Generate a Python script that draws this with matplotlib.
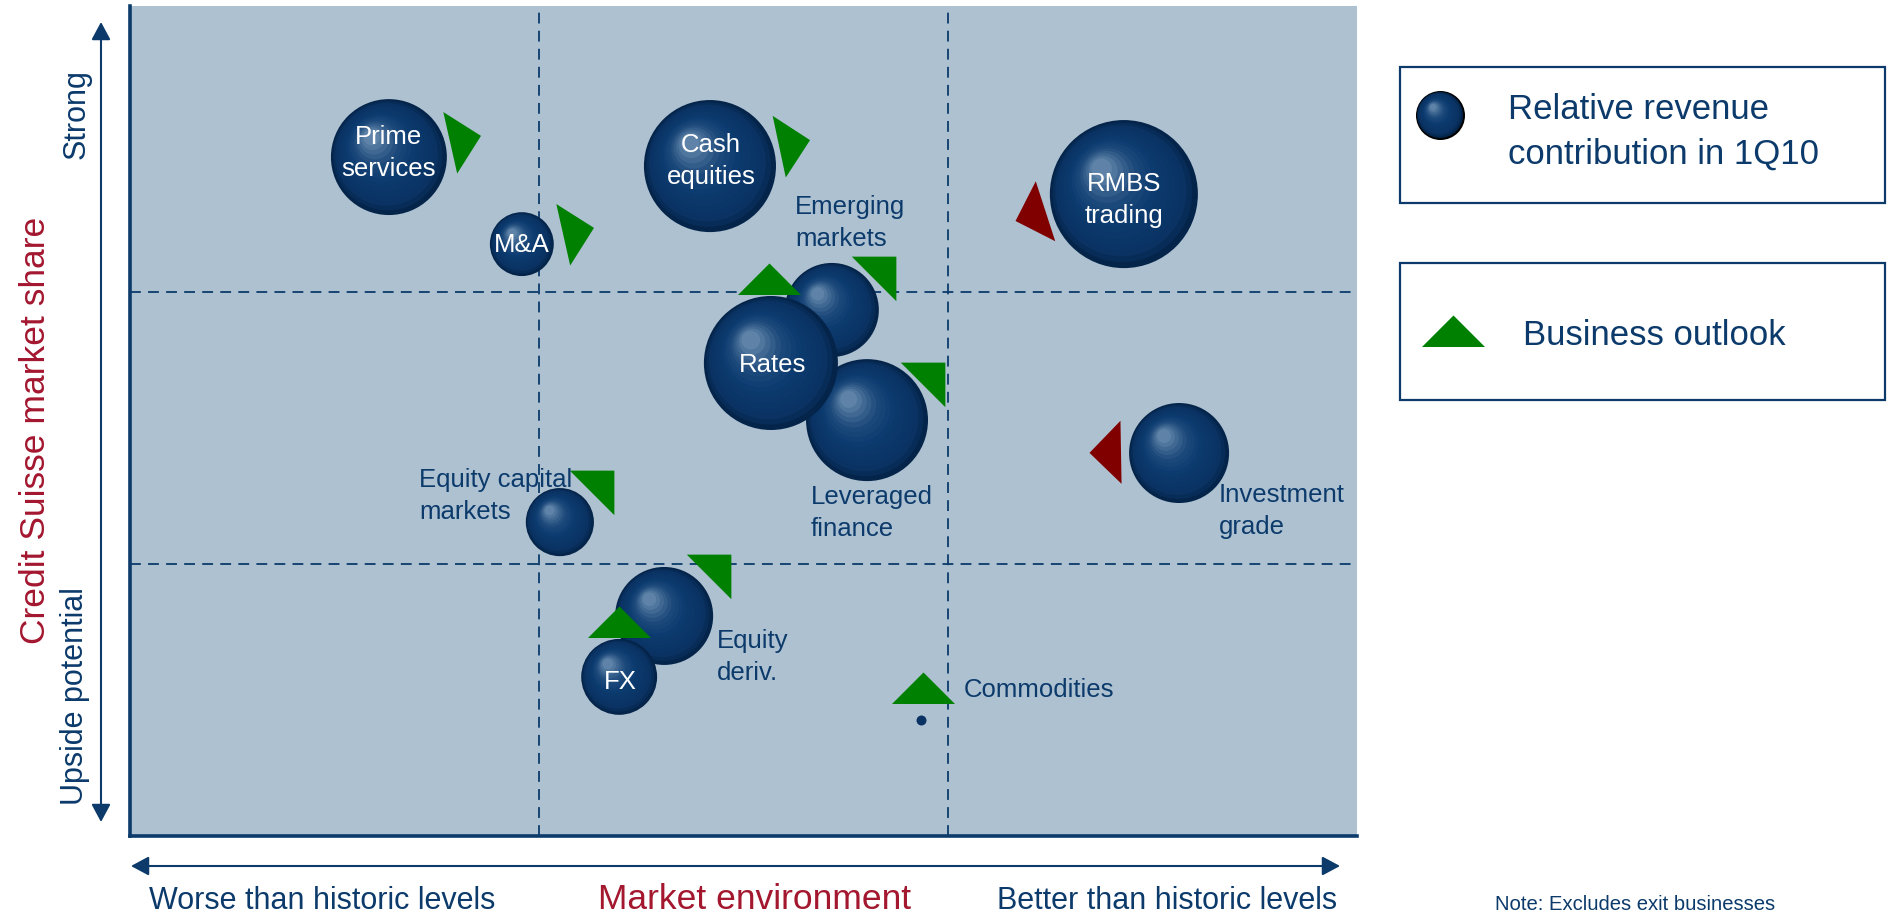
import numpy as np
import matplotlib
matplotlib.use("Agg")
import matplotlib.pyplot as plt
from matplotlib.markers import MarkerStyle
from matplotlib.path import Path
from matplotlib.transforms import Affine2D
from matplotlib.patches import FancyArrowPatch, Rectangle, ArrowStyle

# ---------------- data ----------------
businesses = ["Prime services", "M&A", "Cash equities", "RMBS trading",
              "Emerging markets", "Rates", "Leveraged finance", "Investment grade",
              "Equity capital markets", "Equity deriv.", "FX", "Commodities"]
labels = ["Prime\nservices", "M&A", "Cash\nequities", "RMBS\ntrading",
          "Emerging\nmarkets", "Rates", "Leveraged\nfinance", "Investment\ngrade",
          "Equity capital\nmarkets", "Equity\nderiv.", "FX", "Commodities"]
# x: market environment (0-3), y: Credit Suisse market share (0-3)
market_env = [0.633, 0.958, 1.418, 2.430, 1.716, 1.567, 1.802, 2.565, 1.051, 1.306, 1.196, 1.934]
market_share = [2.496, 2.176, 2.463, 2.360, 1.934, 1.739, 1.529, 1.408, 1.154, 0.809, 0.585, 0.426]
# relative revenue contribution in 1Q10 (bubble area, relative units)
revenue = [33.6, 10.2, 43.6, 54.8, 22.1, 44.9, 37.2, 25.0, 11.6, 24.0, 14.4, 0.25]
# business outlook markers
outlook_x = [0.808, 1.084, 1.611, 2.213, 1.836, 1.562, 1.955, 2.396, 1.147, 1.433, 1.196, 1.938]
outlook_y = [2.560, 2.222, 2.543, 2.286, 2.077, 2.028, 1.688, 1.410, 1.290, 0.982, 0.768, 0.525]
outlook_dir = [12.7, 12.7, 12.0, 198.0, 45.0, 90.0, 45.0, 181.0, 45.0, 45.0, 90.0, 90.0]
outlook_sign = ["+", "+", "+", "-", "+", "+", "+", "-", "+", "+", "+", "+"]

x_labels = ["Worse than historic levels", "Market environment", "Better than historic levels"]
y_labels = ["Upside potential", "Credit Suisse market share", "Strong"]
legend_labels = ["Relative revenue", "contribution in 1Q10", "Business outlook"]
note = "Note: Excludes exit businesses"

# ---------------- style ----------------
W, H, DPI = 1887, 914, 100
NAVY = "#0b3a6b"
RED = "#a3172f"
BG = "#aec1d1"
GREEN = "#008000"
DARKRED = "#800000"
FONT = "Liberation Sans"
plt.rcParams["font.family"] = [FONT, "DejaVu Sans"]

inside = [True, True, True, True, False, True, False, False, False, False, True, False]
label_off = [(0, 32), (0, 11), (1, 33), (0, 22), (-37, 115), (2, 10), (-56, -65),
             (40, -30), (-141, 54), (53, -13), (1, 7), (43, 42)]
draw_order = [0, 1, 2, 3, 4, 6, 5, 7, 8, 9, 10, 11]

fig = plt.figure(figsize=(W / DPI, H / DPI), dpi=DPI)
ax = fig.add_axes([130 / W, (H - 836) / H, 1227 / W, 830 / H])
ax.set_xlim(0, 3)
ax.set_ylim(0, 830 / 272)
ax.set_facecolor(BG)
for s in ["top", "right"]:
    ax.spines[s].set_visible(False)
for s in ["left", "bottom"]:
    ax.spines[s].set_color(NAVY)
    ax.spines[s].set_linewidth(2.6)
ax.set_xticks([])
ax.set_yticks([])
for v in (1, 2):
    ax.axvline(v, color=NAVY, lw=1.3, ls=(0, (6, 4)), zorder=1)
    ax.axhline(v, color=NAVY, lw=1.3, ls=(0, (6, 4)), zorder=1)

# gradient bubble helper
stops_t = [0.0, 0.12, 0.45, 0.70, 0.85, 1.0]
stops_c = np.array([[4, 36, 74], [10, 50, 98], [11, 58, 110], [30, 74, 124],
                    [60, 101, 144], [95, 131, 168]]) / 255.0
NL = 16


def bubble(axis, x, y, r_px, z, edge=False, plain=False):
    ts = np.linspace(0, 1, NL)
    cdisp = axis.transData.transform((x, y))
    if plain:
        axis.scatter([x], [y], s=[(2 * r_px * 72 / DPI) ** 2], color=stops_c[1],
                     linewidths=0, zorder=z)
        return
    pts, sizes, cols = [], [], []
    for t in ts:
        rr = r_px * (1 - 0.86 * t)
        off = np.array([-0.30 * r_px * t, 0.34 * r_px * t])
        pts.append(axis.transData.inverted().transform(cdisp + off))
        sizes.append((2 * rr * 72 / DPI) ** 2)
        cols.append([np.interp(t, stops_t, stops_c[:, k]) for k in range(3)])
    pts = np.array(pts)
    if edge:
        axis.scatter([x], [y], s=[(2 * (r_px + 1.5) * 72 / DPI) ** 2], color="black",
                     linewidths=0, zorder=z)
    axis.scatter(pts[:, 0], pts[:, 1], s=sizes, c=cols, linewidths=0, zorder=z)


fig.canvas.draw()
for k, i in enumerate(draw_order):
    r_px = 10 * np.sqrt(revenue[i])
    bubble(ax, market_env[i], market_share[i], r_px, 2 + k * 0.01, plain=r_px < 8)

# outlook triangles
tri = Path([(-1, -1 / 3), (1, -1 / 3), (0, 2 / 3), (-1, -1 / 3)],
           [Path.MOVETO, Path.LINETO, Path.LINETO, Path.CLOSEPOLY])
TRI_S = 45.4 ** 2
for i in range(len(businesses)):
    m = MarkerStyle(tri, transform=Affine2D().rotate_deg(outlook_dir[i] - 90))
    ax.scatter([outlook_x[i]], [outlook_y[i]], marker=m, s=TRI_S,
               color=GREEN if outlook_sign[i] == "+" else DARKRED,
               linewidths=0, zorder=3)

# labels
for i in range(len(businesses)):
    if inside[i]:
        ax.annotate(labels[i], xy=(market_env[i], market_share[i]), xytext=label_off[i],
                    textcoords="offset pixels", ha="center", va="top", color="white",
                    fontsize=18.5, linespacing=1.42, zorder=4)
    else:
        ax.annotate(labels[i], xy=(market_env[i], market_share[i]), xytext=label_off[i],
                    textcoords="offset pixels", ha="left", va="top", color=NAVY,
                    fontsize=18.5, linespacing=1.42, zorder=4)

# overlay in pixel coordinates
ov = fig.add_axes([0, 0, 1, 1], zorder=5)
ov.set_xlim(0, W)
ov.set_ylim(H, 0)
ov.axis("off")
ov.patch.set_alpha(0)

astyle = ArrowStyle("<|-|>", head_length=0.54, head_width=0.29)
ov.add_patch(FancyArrowPatch((101, 22), (101, 822), arrowstyle=astyle, mutation_scale=20,
                             color=NAVY, lw=1.5, shrinkA=0, shrinkB=0))
ov.add_patch(FancyArrowPatch((131, 866), (1340, 866), arrowstyle=astyle, mutation_scale=20,
                             color=NAVY, lw=1.5, shrinkA=0, shrinkB=0))

ov.text(77, 114, y_labels[2], rotation=90, ha="center", va="center", fontsize=22, color=NAVY)
ov.text(75, 696, y_labels[0], rotation=90, ha="center", va="center", fontsize=22, color=NAVY)
ov.text(36, 430, y_labels[1], rotation=90, ha="center", va="center", fontsize=25.5, color=RED)
ov.text(322, 909, x_labels[0], ha="center", va="baseline", fontsize=22, color=NAVY)
ov.text(755, 909, x_labels[1], ha="center", va="baseline", fontsize=25.5, color=RED)
ov.text(1167, 909, x_labels[2], ha="center", va="baseline", fontsize=22, color=NAVY)
ov.text(1635, 910, note, ha="center", va="baseline", fontsize=14.6, color=NAVY)

# legend
ov.add_patch(Rectangle((1400, 67), 485, 136, fill=False, ec=NAVY, lw=1.6))
ov.add_patch(Rectangle((1400, 263), 485, 137, fill=False, ec=NAVY, lw=1.6))
fig.canvas.draw()
bubble(ov, 1440, 115, 23, 6, edge=True)
ov.scatter([1453], [336], marker=MarkerStyle(tri), s=TRI_S, color=GREEN, linewidths=0, zorder=6)
ov.text(1508, 119, legend_labels[0], ha="left", va="baseline", fontsize=25, color=NAVY)
ov.text(1508, 164, legend_labels[1], ha="left", va="baseline", fontsize=25, color=NAVY)
ov.text(1523, 345, legend_labels[2], ha="left", va="baseline", fontsize=25, color=NAVY)

fig.savefig("out.png", dpi=DPI)
